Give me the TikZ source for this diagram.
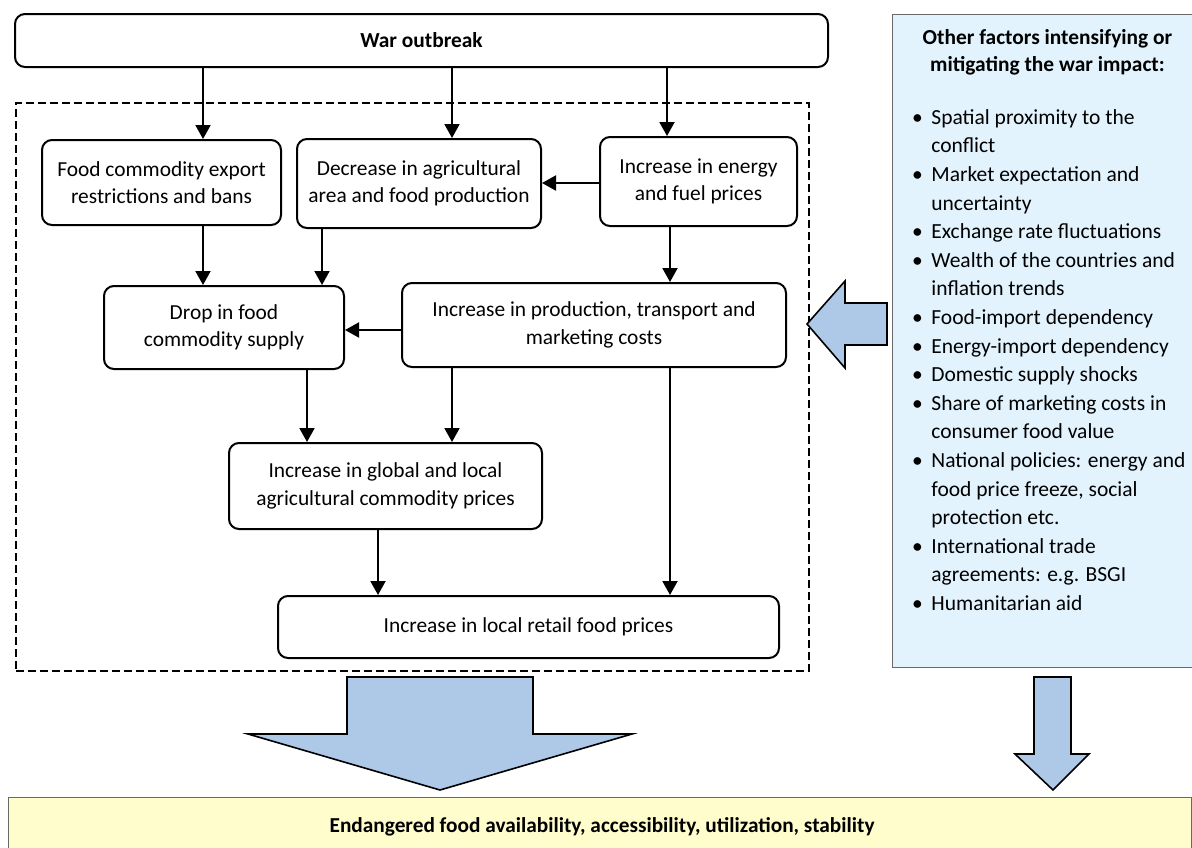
\documentclass[tikz,border=0pt]{standalone}
\usepackage{fontspec}
\setmainfont{Carlito}
\usetikzlibrary{arrows.meta}
\definecolor{arrowblue}{RGB}{174,200,232}
\definecolor{sidebg}{RGB}{226,243,253}
\definecolor{yellowbg}{RGB}{255,253,204}
\definecolor{framegray}{RGB}{105,105,105}
\begin{document}
\begin{tikzpicture}[x=1pt,y=-1pt,
  box/.style={draw, line width=2pt, rounded corners=10pt, align=center, inner sep=0pt,
    font=\fontsize{21.4}{27.2}\selectfont},
  arr/.style={line width=2pt, -{Triangle[width=15pt,length=14pt]}},
  blockarrow/.style={draw, line width=1.6pt, fill=arrowblue, line join=miter},
  dashframe/.style={draw, line width=2pt, dash pattern=on 8pt off 4pt, inner sep=0pt},
]
\useasboundingbox (0,0) rectangle (1192,847);

% side panel and goal box
\node[draw=framegray, fill=sidebg, line width=1.2pt, inner sep=0pt, minimum width=300pt,
  minimum height=653pt, anchor=north west] (side) at (892,14) {};
\node[draw=framegray, fill=yellowbg, line width=1.4pt, inner sep=0pt, minimum width=1183pt,
  minimum height=60pt, anchor=north west] (goal) at (8,797) {};
\node[font=\bfseries\fontsize{21.3}{25}\selectfont] (goaltext) at (602,827)
  {Endangered food availability, accessibility, utilization, stability};

% dashed frame
\node[dashframe, minimum width=793pt, minimum height=568pt, anchor=north west] (frame) at (15,102) {};

% boxes
\node[box, minimum width=813pt, minimum height=53pt] (war) at (421.5,40.5) {\bfseries War outbreak};
\node[box, minimum width=239pt, minimum height=85pt] (A) at (161.5,182.5)
  {Food commodity export\\restrictions and bans};
\node[box, minimum width=244pt, minimum height=89pt] (B) at (419,183.5)
  {Decrease in agricultural\\area and food production};
\node[box, minimum width=197pt, minimum height=89pt] (C) at (698.5,181.5)
  {Increase in energy\\and fuel prices};
\node[box, minimum width=240pt, minimum height=83pt] (D) at (224,327.5)
  {Drop in food\\commodity supply};
\node[box, minimum width=384pt, minimum height=84pt] (E) at (594,325)
  {Increase in production, transport and\\marketing costs};
\node[box, minimum width=313pt, minimum height=86pt] (F) at (385.5,486)
  {Increase in global and local\\agricultural commodity prices};
\node[box, minimum width=501pt, minimum height=62pt] (G) at (528.5,627)
  {Increase in local retail food prices};

% column / row helpers
\coordinate (c203) at (203,0);
\coordinate (c322) at (322,0);
\coordinate (c452) at (452,0);
\coordinate (c667) at (667,0);
\coordinate (c670) at (670,0);
\coordinate (c307) at (307,0);
\coordinate (c378) at (378,0);
\coordinate (r183) at (0,183);
\coordinate (r330) at (0,330);

% connectors
\draw[arr] (war.south -| c203) -- (A.north -| c203);
\draw[arr] (war.south -| c452) -- (B.north -| c452);
\draw[arr] (war.south -| c667) -- (C.north -| c667);
\draw[arr] (C.west |- r183) -- (B.east |- r183);
\draw[arr] (A.south -| c203) -- (D.north -| c203);
\draw[arr] (B.south -| c322) -- (D.north -| c322);
\draw[arr] (C.south -| c670) -- (E.north -| c670);
\draw[arr] (E.west |- r330) -- (D.east |- r330);
\draw[arr] (D.south -| c307) -- (F.north -| c307);
\draw[arr] (E.south -| c452) -- (F.north -| c452);
\draw[arr] (F.south -| c378) -- (G.north -| c378);
\draw[arr] (E.south -| c670) -- (G.north -| c670);

% block arrows
\draw[blockarrow] (347,677) -- (533,677) -- (533,734) -- (632,734) -- (440,790) -- (248,734) -- (347,734) -- cycle;
\draw[blockarrow] (1034,677) -- (1071,677) -- (1071,754) -- (1089,754) -- (1053,790) -- (1015,754) -- (1034,754) -- cycle;
\draw[blockarrow] (887,303) -- (887,345) -- (845,345) -- (845,368) -- (807,324) -- (845,281) -- (845,303) -- cycle;

% side panel text
\node[font=\bfseries\fontsize{21.4}{27}\selectfont, align=center] (sidetitle) at (1047.5,52)
  {Other factors intensifying or\\mitigating the war impact:};
\node[anchor=north west, inner sep=0pt, font=\fontsize{21.5}{28.6}\selectfont] (sidelist) at (912,104)
  {\begin{tabular}{@{}l@{\hspace{8.5pt}}l@{}}
   \textbullet & Spatial proximity to the\\
               & conflict\\
   \textbullet & Market expectation and\\
               & uncertainty\\
   \textbullet & Exchange rate fluctuations\\
   \textbullet & Wealth of the countries and\\
               & inflation trends\\
   \textbullet & Food-import dependency\\
   \textbullet & Energy-import dependency\\
   \textbullet & Domestic supply shocks\\
   \textbullet & Share of marketing costs in\\
               & consumer food value\\
   \textbullet & National policies: energy and\\
               & food price freeze, social\\
               & protection etc.\\
   \textbullet & International trade\\
               & agreements: e.g. BSGI\\
   \textbullet & Humanitarian aid
  \end{tabular}};
\end{tikzpicture}
\end{document}
